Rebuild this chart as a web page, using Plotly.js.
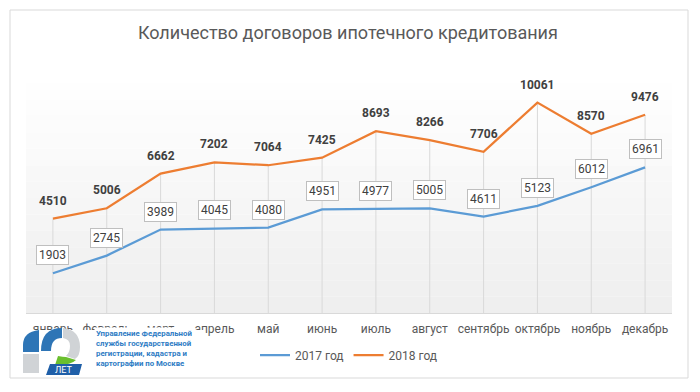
<!DOCTYPE html>
<html>
<head>
<meta charset="utf-8">
<script src="https://cdn.plot.ly/plotly-3.0.1.min.js"></script>
<style>html,body{margin:0;padding:0;background:#fff;}#chart{width:700px;height:392px;}</style>
</head>
<body>
<div id="chart"></div>
<script>
const months = ["январь","февраль","март","апрель","май","июнь","июль","август","сентябрь","октябрь","ноябрь","декабрь"];
const v2017 = [1903,2745,3989,4045,4080,4951,4977,5005,4611,5123,6012,6961];
const v2018 = [4510,5006,6662,7202,7064,7425,8693,8266,7706,10061,8570,9476];
const seriesNames = ["2017 год","2018 год"];
const titleText = "Количество договоров ипотечного кредитования";
const orgLines = ["Управление Федеральной","службы государственной","регистрации, кадастра и","картографии по Москве"];

const L=26, R=672, T=62, B=313;
const px = x => (x-L)/(R-L);
const py = y => (B-y)/(B-T);
const P = pts => pts.map((p,i)=>{
  if (p[0]==='Q') return 'Q'+px(p[1])+','+py(p[2])+' '+px(p[3])+','+py(p[4]);
  if (p[0]==='Z') return 'Z';
  return (i===0?'M':'L')+px(p[0])+','+py(p[1]);
}).join(' ');

const FONT = "Roboto, 'Liberation Sans', sans-serif";
const shapes = [];
// outer frame
shapes.push({type:'rect',xref:'paper',yref:'paper',x0:px(10),x1:px(688),y0:py(378),y1:py(10),line:{color:'#d9d9d9',width:1},layer:'below'});
// gradient plot background
const nStrips = 14, gTop = 83;
for (let i=0;i<nStrips;i++){
  const y0 = gTop + (B-gTop)*i/nStrips, y1 = gTop + (B-gTop)*(i+1)/nStrips;
  const g = Math.round(255 - 17*(i+0.5)/nStrips);
  shapes.push({type:'rect',xref:'paper',yref:'paper',x0:0,x1:1,y0:py(y1),y1:py(y0),line:{width:0},fillcolor:`rgb(${g},${g},${g})`,layer:'below'});
}
// logo white background
shapes.push({type:'rect',xref:'paper',yref:'paper',x0:px(16),x1:px(204),y0:py(376),y1:py(330),line:{width:0},fillcolor:'#ffffff',layer:'above'});
// "1" blue top
shapes.push({type:'path',xref:'paper',yref:'paper',layer:'above',line:{width:0},fillcolor:'#2e75b6',
  path:P([[39,330],[39,352],[23,352],[23,345],['Q',23,332,39,330],['Z']])});
// "1" grey bottom
shapes.push({type:'path',xref:'paper',yref:'paper',layer:'above',line:{width:0},fillcolor:'#d0d3d6',
  path:P([[23,354],[39,354],[39,373],[23,373],['Z']])});
// "0" blue arc
shapes.push({type:'path',xref:'paper',yref:'paper',layer:'above',line:{width:0},fillcolor:'#2e75b6',
  path:P([[62,328],[62,338],['Q',51,338,51,351],[41,351],['Q',41,328,62,328],['Z']])});
// "0" grey right arc
shapes.push({type:'path',xref:'paper',yref:'paper',layer:'above',line:{width:0},fillcolor:'#d0d3d6',
  path:P([[63,328],['Q',80,330,80,347],['Q',80,356,75,359],[66,356],['Q',70,352,70,346],['Q',70,339,63,338],['Z']])});
// green piece
shapes.push({type:'path',xref:'paper',yref:'paper',layer:'above',line:{width:0},fillcolor:'#6abf2e',
  path:P([[66,357],[76,360],['Q',71,365,58,365],[55,365],[58,356],['Q',63,357,66,357],['Z']])});
// ЛЕТ plate
shapes.push({type:'path',xref:'paper',yref:'paper',layer:'above',line:{width:0},fillcolor:'#1f5fa8',
  path:P([[50,364],[82,364],[79,375],[46,375],['Z']])});

const annotations = [];
months.forEach((m,i)=>{
  annotations.push({x:m,y:v2017[i],xref:'x',yref:'y',text:String(v2017[i]),showarrow:false,yshift:18,
    bgcolor:'#ffffff',bordercolor:'#bfbfbf',borderwidth:1,borderpad:2,
    font:{family:FONT,size:12,color:'#404040'}});
  annotations.push({x:m,y:v2018[i],xref:'x',yref:'y',text:'<b>'+v2018[i]+'</b>',showarrow:false,yshift:18,
    font:{family:FONT,size:12,color:'#404040'}});
});
annotations.push({xref:'paper',yref:'paper',x:px(64),y:py(369.5),text:'ЛЕТ',showarrow:false,xanchor:'center',yanchor:'middle',
  font:{family:FONT,size:9,color:'#ffffff'}});
annotations.push({xref:'paper',yref:'paper',x:px(94),y:py(348.5),text:orgLines.map(t=>'<b>'+t+'</b>').join('<br>'),
  showarrow:false,xanchor:'left',yanchor:'middle',align:'left',bgcolor:'#ffffff',borderpad:1,
  font:{family:FONT,size:7.8,color:'#2e7cc4'}});

const traces = [
  {x:months,y:v2018,type:'scatter',mode:'markers',marker:{opacity:0,size:1},showlegend:false,hoverinfo:'skip',
   error_y:{type:'data',symmetric:false,array:months.map(()=>0),arrayminus:v2018,color:'#d9d9d9',thickness:1,width:0}},
  {x:months,y:v2017,type:'scatter',mode:'lines',name:seriesNames[0],line:{color:'#5b9bd5',width:2.25}},
  {x:months,y:v2018,type:'scatter',mode:'lines',name:seriesNames[1],line:{color:'#ed7d31',width:2.25}}
];

const layout = {
  width:700,height:392,
  margin:{l:L,r:700-R,t:T,b:392-B,pad:0},
  paper_bgcolor:'#ffffff',plot_bgcolor:'rgba(0,0,0,0)',
  title:{text:titleText,x:0.497,xanchor:'center',y:1-33/392,yanchor:'middle',yref:'container',
    font:{family:FONT,size:18,color:'#595959',weight:400}},
  xaxis:{type:'category',range:[-0.5,11.5],showgrid:false,showline:true,linecolor:'#d9d9d9',linewidth:1,
    ticks:'',ticklabelstandoff:5,tickfont:{family:FONT,size:12,color:'#595959'},fixedrange:true},
  yaxis:{range:[0,12000],visible:false,fixedrange:true},
  showlegend:true,
  legend:{orientation:'h',x:0.5,xanchor:'center',y:py(355),yanchor:'middle',bgcolor:'rgba(0,0,0,0)',
    font:{family:FONT,size:12,color:'#595959'},itemwidth:30,traceorder:'normal'},
  shapes:shapes,
  annotations:annotations
};

Plotly.newPlot('chart',traces,layout,{displayModeBar:false,staticPlot:true});
</script>
</body>
</html>
